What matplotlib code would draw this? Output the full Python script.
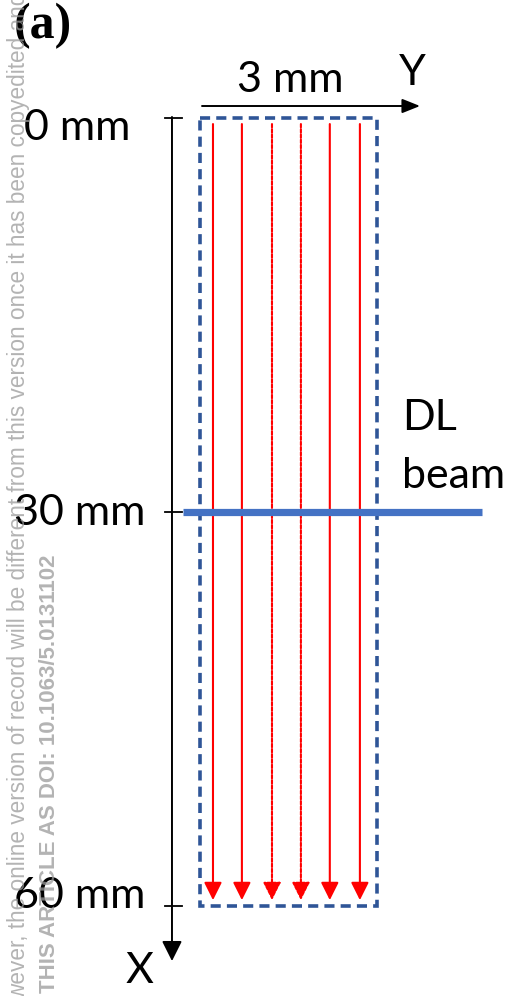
import matplotlib
matplotlib.use('Agg')
import matplotlib.pyplot as plt
from matplotlib.patches import Rectangle

# ---------------- data ----------------
x_ticks_mm = [0, 30, 60]
x_tick_labels = ['0 mm', '30 mm', '60 mm']
sample_width_mm = 3
sample_length_mm = 60
scan_positions_mm = [0.22, 0.71, 1.22, 1.71, 2.20, 2.71]
scan_dotted = [False, False, True, True, False, False]
scan_start_mm = 0.46
scan_end_mm = 59.55
beam_position_mm = 30
beam_extent_mm = [-0.29, 4.78]
width_label = '3 mm'
beam_label = ['DL', 'beam']
panel_label = '(a)'
watermark_lines = [
    'wever, the online version of record will be different from this version once it has been copyedited and typeset.',
    'THIS ARTICLE AS DOI: 10.1063/5.0131102',
]

# ---------------- figure ----------------
W, H = 514, 996
fig = plt.figure(figsize=(W / 100, H / 100), dpi=100)
ax = fig.add_axes([0, 0, 1, 1])
ax.set_xlim(-3.390, 5.322)
ax.set_ylim(66.85, -8.985)
ax.axis('off')

FONT = ['Lato', 'DejaVu Sans']
FS = 31

# dashed sample outline
rect = Rectangle((0, 0), sample_width_mm, sample_length_mm, fill=False,
                 edgecolor='#2F5597', lw=2.6, linestyle=(0, (2.8, 1.7)), zorder=3)
ax.add_patch(rect)

# scan lines (red arrows)
for y, dotted in zip(scan_positions_mm, scan_dotted):
    ls = (0, (1.6, 0.9)) if dotted else '-'
    ax.annotate('', xy=(y, scan_end_mm), xytext=(y, scan_start_mm),
                arrowprops=dict(arrowstyle='-|>,head_length=1.0,head_width=0.5',
                                mutation_scale=10.8, color='#FF0000', lw=1.5,
                                linestyle=ls, shrinkA=0, shrinkB=0), zorder=4)

# DL beam line
ax.plot(beam_extent_mm, [beam_position_mm, beam_position_mm], color='#4472C4',
        lw=5.2, solid_capstyle='butt', zorder=5)

# X axis (vertical arrow)
ax.annotate('', xy=(-0.475, 64.19), xytext=(-0.475, -0.08),
            arrowprops=dict(arrowstyle='-|>,head_length=1.0,head_width=0.5',
                            mutation_scale=12.2, color='black', lw=1.4,
                            shrinkA=0, shrinkB=0), zorder=2)
for t in x_ticks_mm:
    ax.plot([-0.6, -0.3], [t, t], color='black', lw=1.3, zorder=2)

# tick labels
label_pos = {0: (-1.186, 1.675), 30: (-0.932, 30.99), 60: (-0.932, 60.15)}
for t, lab in zip(x_ticks_mm, x_tick_labels):
    px, py = label_pos[t]
    ax.text(px, py, lab, ha='right', va='baseline', fontsize=FS,
            family=FONT, color='black', zorder=6)
ax.text(-1.034, 65.86, 'X', ha='center', va='baseline', fontsize=FS,
        family=FONT, color='black')

# Y axis (horizontal arrow)
ax.annotate('', xy=(3.729, -0.914), xytext=(0.034, -0.914),
            arrowprops=dict(arrowstyle='-|>,head_length=1.0,head_width=0.4',
                            mutation_scale=10.8, color='black', lw=1.4,
                            shrinkA=0, shrinkB=0))
ax.text(1.525, -1.98, width_label, ha='center', va='baseline', fontsize=FS,
        family=FONT, color='black')
ax.text(3.593, -2.51, 'Y', ha='center', va='baseline', fontsize=FS,
        family=FONT, color='black')

# DL beam label
ax.text(3.424, 23.76, beam_label[0], ha='left', va='baseline', fontsize=FS,
        family=FONT, color='black')
ax.text(3.424, 28.17, beam_label[1], ha='left', va='baseline', fontsize=FS,
        family=FONT, color='black')

# panel label
fig.text(14 / W, 1 - 38 / H, panel_label, ha='left', va='baseline', fontsize=36,
         family='Liberation Serif', weight='bold', color='black')

# watermark
fig.text(25 / W, 1 - 1000 / H, watermark_lines[0], rotation=90, rotation_mode='anchor',
         ha='left', va='baseline', fontsize=16.3, family='Liberation Sans',
         color='#9a9a9a', alpha=0.75, zorder=10)
fig.text(55 / W, 1 - 993 / H, watermark_lines[1], rotation=90, rotation_mode='anchor',
         ha='left', va='baseline', fontsize=16, family='Liberation Sans', weight='bold',
         color='#9a9a9a', alpha=0.75, zorder=10)

fig.savefig('out.png', dpi=100)
